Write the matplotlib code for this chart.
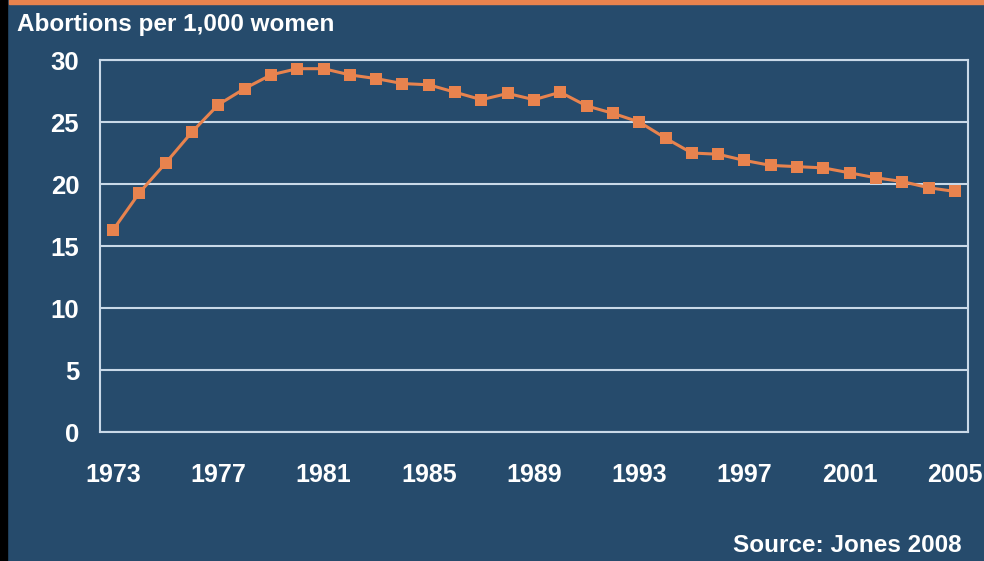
import matplotlib.pyplot as plt
from matplotlib.patches import Rectangle

# abortion rate per 1,000 women, 1973-2005
years = list(range(1973, 2006))
rate = [16.3, 19.3, 21.7, 24.2, 26.4, 27.7, 28.8, 29.3, 29.3, 28.8,
        28.5, 28.1, 28.0, 27.4, 26.8, 27.3, 26.8, 27.4, 26.3, 25.7,
        25.0, 23.7, 22.5, 22.4, 21.9, 21.5, 21.4, 21.3, 20.9, 20.5,
        20.2, 19.7, 19.4]
xticks = [1973, 1977, 1981, 1985, 1989, 1993, 1997, 2001, 2005]
yticks = [0, 5, 10, 15, 20, 25, 30]

bg = '#264B6C'
orange = '#E8834E'
grid = '#C9D9E8'

plt.rcParams['font.family'] = ['Liberation Sans', 'DejaVu Sans']
plt.rcParams['font.weight'] = 'bold'

fig = plt.figure(figsize=(9.84, 5.61), dpi=100)
fig.patch.set_facecolor(bg)

W, H = 984, 561
ax = fig.add_axes([100 / W, (H - 432) / H, 868 / W, 372 / H])
ax.set_facecolor(bg)

# frame and gridlines
for s in ax.spines.values():
    s.set_color(grid)
    s.set_linewidth(1.5)
ax.set_yticks(yticks)
ax.set_ylim(0, 30)
ax.set_xlim(1972.5, 2005.5)
ax.set_xticks(xticks)
ax.grid(axis='y', color=grid, linewidth=1.5)
ax.set_axisbelow(True)
ax.tick_params(length=0, colors='white')
ax.tick_params(axis='y', labelsize=18.5, pad=15)
ax.tick_params(axis='x', labelsize=18, pad=22)

ax.plot(years, rate, color=orange, linewidth=2.2, marker='s',
        markersize=8.5, markeredgewidth=0, clip_on=False, zorder=3)

fig.text(17 / W, 1 - 24 / H, 'Abortions per 1,000 women', color='white',
         fontsize=17.5, fontweight='bold', va='center', ha='left')
fig.text(962 / W, 1 - 546 / H, 'Source: Jones 2008', color='white',
         fontsize=17.5, fontweight='bold', va='center', ha='right')

# black left border and orange top strip
fig.patches.append(Rectangle((0, 0), 7 / W, 1, transform=fig.transFigure,
                             color='black', zorder=5))
fig.patches.append(Rectangle((9 / W, 1 - 4 / H), 1 - 9 / W, 4 / H,
                             transform=fig.transFigure, color=orange, zorder=5))

fig.savefig('out.png', dpi=100, facecolor=fig.get_facecolor())
